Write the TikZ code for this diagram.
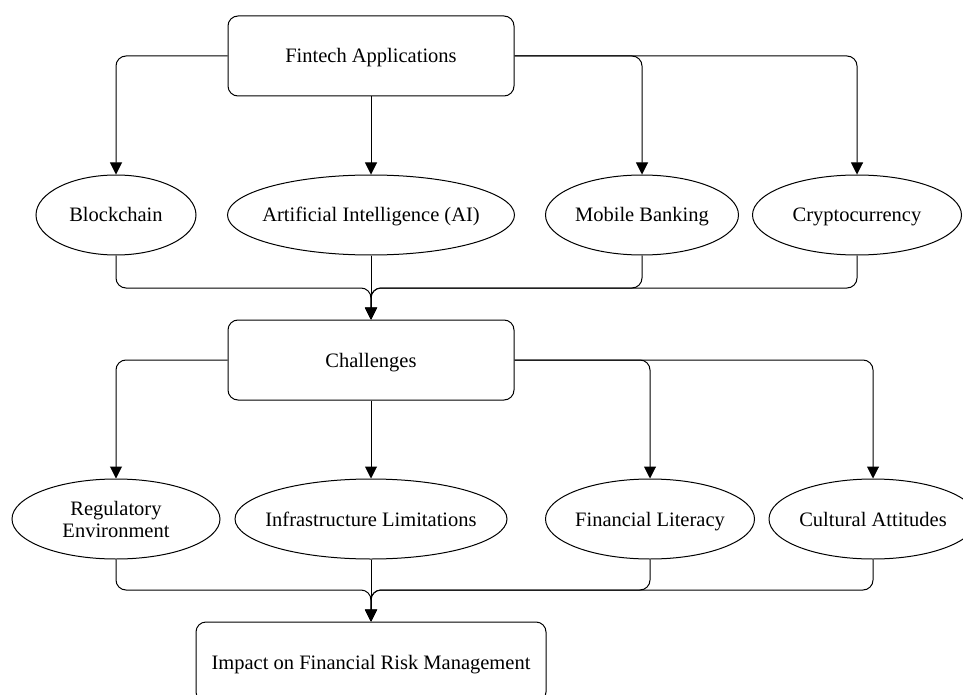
\documentclass[tikz,border=0pt]{standalone}
\usepackage{fontspec}
\setmainfont{Liberation Serif}
\usetikzlibrary{shapes.geometric,arrows.meta}
\newcommand{\zw}[1]{\makebox[0pt]{#1}}
\begin{document}
\begin{tikzpicture}[x=1pt,y=-1pt,
  every node/.style={font=\fontsize{20.5}{22}\selectfont, line width=1pt},
  oneline/.style={text height=14pt, text depth=0pt},
  boxnode/.style={draw, rounded corners=10pt, minimum height=80pt, inner sep=0pt, oneline},
  ellnode/.style={draw, ellipse, minimum height=80pt, inner sep=0pt, align=center},
  conn/.style={line width=1pt, rounded corners=10pt, -{Triangle[width=12pt,length=12pt]}}]
\clip (0,0) rectangle (963,695);
\useasboundingbox (0,0) rectangle (963,695);
\node[boxnode, minimum width=286pt] (fa) at (371,56) {Fintech Applications};
\node[ellnode, oneline, minimum width=160pt] (bc) at (116,215) {\zw{Blockchain}};
\node[ellnode, oneline, minimum width=287pt] (ai) at (371,215) {\zw{Artificial Intelligence (AI)}};
\node[ellnode, oneline, minimum width=193pt] (mb) at (642,215) {\zw{Mobile Banking}};
\node[ellnode, oneline, minimum width=209pt] (cc) at (857,215) {\zw{Cryptocurrency}};
\node[boxnode, minimum width=286pt] (ch) at (371,360) {Challenges};
\node[ellnode, minimum width=208pt] (re) at (116,519) {\zw{Regulatory}\\\zw{Environment}};
\node[ellnode, oneline, minimum width=272pt] (il) at (371,519) {\zw{Infrastructure Limitations}};
\node[ellnode, oneline, minimum width=209pt] (fl) at (650,519) {\zw{Financial Literacy}};
\node[ellnode, oneline, minimum width=208pt] (ca) at (873,519) {\zw{Cultural Attitudes}};
\node[boxnode, minimum width=350pt] (im) at (371,662) {Impact on Financial Risk Management};
\coordinate (m1) at (371,288);
\coordinate (m2) at (371,590);
% top fan-out
\draw[conn] (fa.west) -| (bc.north);
\draw[conn] (fa.south) -- (ai.north);
\draw[conn] (fa.east) -| (mb.north);
\draw[conn] (fa.east) -| (cc.north);
% merge to challenges
\draw[conn] (bc.south) |- (m1) -- (ch.north);
\draw[conn] (ai.south) -- (ch.north);
\draw[conn] (mb.south) |- (m1) -- (ch.north);
\draw[conn] (cc.south) |- (m1) -- (ch.north);
% challenges fan-out
\draw[conn] (ch.west) -| (re.north);
\draw[conn] (ch.south) -- (il.north);
\draw[conn] (ch.east) -| (fl.north);
\draw[conn] (ch.east) -| (ca.north);
% merge to impact
\draw[conn] (re.south) |- (m2) -- (im.north);
\draw[conn] (il.south) -- (im.north);
\draw[conn] (fl.south) |- (m2) -- (im.north);
\draw[conn] (ca.south) |- (m2) -- (im.north);
\end{tikzpicture}
\end{document}
